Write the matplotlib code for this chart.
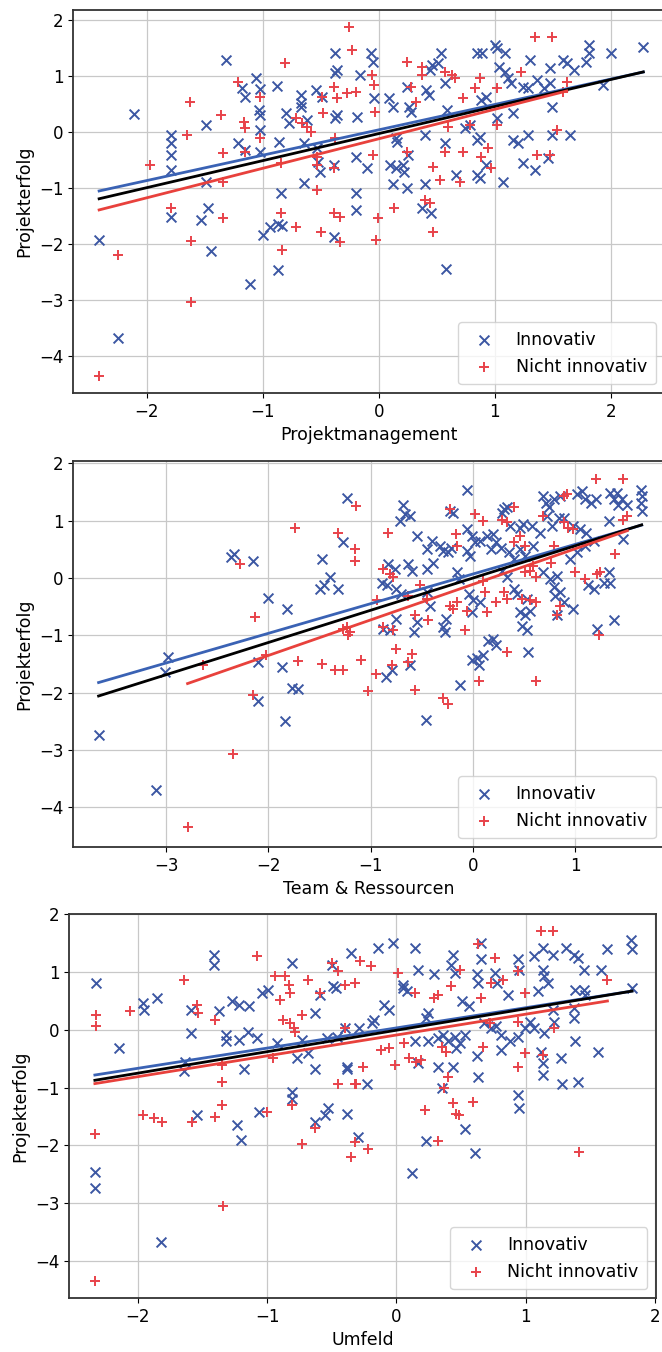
import numpy as np
import matplotlib
matplotlib.use("Agg")
import matplotlib.pyplot as plt
from matplotlib.ticker import MultipleLocator

# ---- Projektmanagement ----
pm_inno = [
    (-2.11, 0.33), (-1.32, 1.29), (-1.79, -0.05), (-1.79, -0.2), (-1.79, -0.41), (-1.79, -0.68),
    (-1.49, 0.13), (-1.49, -0.9), (-1.47, -1.36), (-1.53, -1.57), (-1.79, -1.51), (-1.06, 0.96),
    (-1.18, 0.79), (-1.15, 0.63), (-1.03, 0.39), (-1.02, 0.3), (-1.02, 0.77), (-1.02, 0.04),
    (-1.21, -0.2), (-1.15, -0.32), (-1.02, -0.35), (-0.88, 0.82), (-0.86, -0.17), (-0.84, -1.09),
    (-0.8, 0.34), (-0.77, 0.16), (-0.67, 0.66), (-0.67, 0.52), (-0.67, 0.45), (-0.62, 0.21),
    (-0.64, -0.2), (-0.64, -0.91), (-0.54, 0.75), (-0.49, 0.63), (-0.53, -0.29), (-0.52, -0.53),
    (-0.51, -0.71), (-0.38, 1.41), (-0.36, 1.1), (-0.38, 1.05), (-0.36, 0.3), (-0.38, 0.25),
    (-0.39, -0.59), (-0.19, 0.27), (-0.2, -0.44), (-0.2, -1.09), (-0.2, -1.39), (-0.16, 1.02),
    (-0.07, 1.41), (-0.05, 1.25), (-0.1, -0.65), (-0.04, 0.6), (0.09, 0.6), (0.12, 0.45),
    (0.15, -0.11), (0.16, -0.17), (0.1, -0.59), (0.15, -0.65), (0.21, -0.59), (0.22, -0.71),
    (0.24, -1.0), (0.12, -0.92), (0.25, -0.41), (0.24, 0.8), (0.26, 0.45), (0.28, 0.36),
    (0.4, -0.92), (0.4, -0.05), (0.41, 0.75), (0.43, 0.66), (0.44, 1.1), (0.46, 1.19),
    (0.51, 1.23), (0.54, 1.41), (0.57, 0.87), (0.57, -0.2), (0.59, 0.39), (0.67, -0.77),
    (0.37, -1.36), (0.45, -1.45), (0.74, 0.07), (0.79, 0.13), (0.85, -0.14), (0.87, -0.09),
    (0.85, 1.41), (0.89, 1.41), (0.88, 0.57), (0.92, 0.63), (0.85, -0.77), (0.87, -0.82),
    (0.92, -0.59), (1.0, 1.55), (1.02, 1.5), (1.09, 1.41), (1.04, 1.16), (1.09, 1.07),
    (1.11, 0.96), (1.14, 0.87), (1.02, 0.25), (1.07, -0.89), (1.16, 0.34), (1.16, -0.14),
    (1.2, -0.2), (1.24, 0.8), (1.29, 0.78), (1.24, -0.55), (1.3, 1.29), (1.29, -0.05),
    (1.35, -0.68), (1.36, 0.93), (1.42, 0.78), (1.48, 0.87), (1.48, 1.14), (1.49, -0.05),
    (1.49, 0.45), (1.46, -0.47), (1.59, 1.29), (1.62, 1.23), (1.68, 1.11), (1.65, -0.05),
    (1.81, 1.55), (1.81, 1.41), (1.79, 1.25), (1.93, 0.84), (2.0, 1.41), (2.28, 1.52),
    (-2.41, -1.92), (-2.25, -3.68), (-1.45, -2.12), (-1.11, -2.71), (-0.87, -2.46), (-1.0, -1.84),
    (-0.94, -1.7), (-0.87, -1.64), (-0.83, -1.67), (-0.39, -1.88), (0.58, -2.45),
]
pm_nicht = [
    (-1.97, -0.59), (-1.65, -0.05), (-1.63, 0.54), (-1.36, 0.3), (-1.34, -0.38), (-1.34, -0.9),
    (-1.34, -1.54), (-1.79, -1.36), (-1.21, 0.9), (-1.16, 0.18), (-1.15, 0.07), (-1.15, -0.35),
    (-1.02, 0.63), (-1.02, -0.1), (-0.81, 1.23), (-0.84, -0.55), (-0.84, -1.45), (-0.71, 0.25),
    (-0.66, 0.16), (-0.62, 0.09), (-0.58, 0.0), (-0.53, -0.44), (-0.53, -0.59), (-0.53, -1.04),
    (-0.49, 0.63), (-0.48, 0.34), (-0.39, 0.8), (-0.39, -0.65), (-0.38, -0.1), (-0.36, 0.6),
    (-0.27, 0.69), (-0.2, 0.71), (-0.26, 1.88), (-0.23, 1.46), (-0.39, -1.45), (-0.33, -1.51),
    (-0.71, -1.7), (-0.06, 1.02), (-0.04, 0.84), (-0.03, 0.36), (-0.05, -0.41), (-0.01, -1.54),
    (0.13, -1.36), (0.24, 1.25), (0.28, 0.8), (0.24, -0.35), (0.37, 1.16), (0.37, 1.02),
    (0.32, 0.54), (0.47, -0.62), (0.53, -0.86), (0.4, -1.21), (0.44, -1.27), (0.57, 1.07),
    (0.63, 1.02), (0.66, 0.96), (0.6, 0.09), (0.57, -0.35), (0.7, -0.89), (0.73, 0.6),
    (0.73, -0.35), (0.79, 0.13), (0.83, 0.78), (0.87, 0.96), (0.88, -0.44), (0.94, -0.29),
    (0.97, -0.65), (1.02, 0.78), (1.02, 0.13), (1.23, 1.07), (1.35, 1.7), (1.49, 1.7),
    (1.36, -0.41), (1.48, -0.41), (1.54, 0.04), (1.59, 0.71), (1.62, 0.9),
    (-2.41, -4.35), (-2.25, -2.19), (-1.62, -1.94), (-1.62, -3.04), (-0.83, -2.1), (-0.5, -1.78),
    (-0.33, -1.97), (-0.02, -1.92), (0.47, -1.79),
]
# regression lines: slope, intercept (innovativ, alle, nicht innovativ)
pm_fits = [(0.453, 0.04), (0.483, -0.027), (0.527, -0.12)]

# ---- Team & Ressourcen ----
tr_inno = [
    (-1.23, 1.40), (-2.37, 0.36), (-2.34, 0.42), (-2.15, 0.30), (-2.0, -0.34), (-1.82, -0.54),
    (-1.48, 0.33), (-1.27, 0.62), (-1.5, -0.19), (-1.46, -0.13), (-1.4, 0.01), (-1.32, -0.19),
    (-2.98, -1.38), (-3.01, -1.64), (-2.1, -1.47), (-1.87, -1.55),
    (-3.66, -2.73), (-3.1, -3.69), (-2.1, -2.14), (-1.84, -2.49), (-1.77, -1.91), (-1.71, -1.94),
    (-0.85, -1.72), (-0.79, -1.61), (-0.62, -1.52), (-0.46, -2.47), (-0.13, -1.87), (0.06, -1.52),
    (-0.68, 1.28), (-0.66, 1.11), (-0.71, 0.99), (-0.62, 1.08), (-0.06, 1.54), (-0.55, 0.73),
    (-0.83, 0.24), (-0.76, 0.16), (-0.63, 0.24), (-0.6, 0.13), (-0.89, -0.08), (-0.84, -0.13),
    (-0.75, -0.19), (-0.7, -0.28), (-0.45, 0.5), (-0.4, 0.65), (-0.32, 0.56), (-0.29, 0.47),
    (-0.24, 0.45), (-0.21, 0.53), (-0.45, 0.16), (-0.39, 0.27), (-0.45, -0.25), (-0.42, -0.48),
    (-0.22, 1.17), (-0.19, 1.14), (-0.06, 0.85), (-0.01, 0.73), (0.02, 0.62), (0.07, 0.65),
    (-0.06, 0.47), (-0.03, 0.39), (-0.16, 0.1), (-0.14, -0.02), (-0.04, -0.28), (0.0, -0.39),
    (-0.01, -0.6), (0.07, -0.42), (-0.26, -0.71), (-0.29, -0.86), (-0.27, -0.94), (-0.58, -0.94),
    (-0.55, -0.77), (-0.88, -0.88), (-0.81, -0.91), (-0.75, -0.71), (0.14, 0.73), (0.2, 0.76),
    (0.23, 0.62), (0.18, 0.5), (0.27, 0.53), (0.3, 1.2), (0.33, 1.23), (0.28, 1.14),
    (0.36, 0.91), (0.46, 0.88), (0.49, 0.94), (0.35, 0.45), (0.4, 0.33), (0.46, 0.5),
    (0.51, 0.39), (0.28, 0.13), (0.33, 0.01), (0.4, -0.19), (0.43, -0.28), (0.15, -1.09),
    (0.2, -1.06), (0.23, -1.17), (0.1, -1.35), (0.04, -1.4), (-0.01, -1.43), (0.53, -0.36),
    (0.46, -0.6), (0.51, -0.65), (0.48, -0.83), (0.53, -0.91), (0.56, -0.57), (0.54, -1.29),
    (0.58, 0.91), (0.66, 0.79), (0.59, 0.56), (0.69, 1.43), (0.71, 1.31), (0.74, 1.23),
    (0.79, 1.37), (0.85, 1.43), (0.72, 1.08), (0.77, 0.91), (0.84, 1.05), (0.89, 1.05),
    (0.69, 0.1), (0.75, -0.02), (0.82, 0.04), (0.79, -0.16), (0.8, -0.31), (0.85, -0.25),
    (0.89, -0.42), (0.98, -0.54), (0.82, -0.65), (0.95, 0.33), (1.02, 0.45), (1.02, 1.46),
    (1.07, 1.51), (1.1, 1.37), (1.15, 1.31), (1.2, 1.37), (0.98, 0.91), (1.05, 0.85),
    (1.11, 0.79), (1.18, 0.65), (1.1, 0.56), (1.13, -0.13), (1.18, -0.19), (1.28, -0.08),
    (1.33, 0.1), (1.34, -0.08), (1.34, 1.49), (1.38, 1.37), (1.41, 1.49), (1.42, 1.28),
    (1.46, 1.37), (1.51, 1.28), (1.33, 0.99), (1.47, 0.68), (1.64, 1.54), (1.65, 1.43),
    (1.64, 1.31), (1.65, 1.17), (1.21, -0.88), (1.38, -0.74),
]
tr_nicht = [
    (-2.28, 0.24), (-2.13, -0.68), (-1.74, 0.88), (-1.32, 0.79), (-1.15, 0.5), (-1.15, 0.3),
    (-1.14, 1.26), (-1.27, -0.89), (-1.22, -1.0), (-2.02, -1.35), (-2.64, -1.52), (-1.71, -1.44),
    (-1.48, -1.5), (-1.35, -1.61), (-1.27, -1.61),
    (-2.35, -3.06), (-2.79, -4.34), (-2.15, -2.04), (-1.03, -1.97), (-0.95, -1.68), (-0.57, -1.95),
    (-0.29, -2.1), (-0.24, -2.2), (0.06, -1.8), (0.62, -1.8),
    (-0.83, 0.79), (-0.88, 0.16), (-0.81, 0.07), (-0.78, 0.01), (-0.22, 1.2), (0.02, 1.11),
    (0.1, 0.99), (0.28, 1.02), (0.33, 0.97), (0.4, 1.23), (-0.17, 0.76), (-0.16, 0.56),
    (-0.63, -0.31), (-0.52, -0.13), (-0.45, -0.36), (-0.94, -0.39), (-1.23, -0.86), (-1.2, -0.94),
    (-0.88, -0.86), (-0.78, -0.91), (-0.75, -1.23), (-0.6, -1.32), (-0.63, -1.46), (-1.09, -1.43),
    (-0.79, -1.52), (-0.57, -0.65), (-0.44, -0.74), (-0.22, -0.48), (-0.19, -0.54), (-0.16, -0.42),
    (-0.06, -0.57), (-0.08, -0.91), (0.1, -0.05), (0.12, -0.25), (0.14, -0.6), (0.23, -0.42),
    (0.3, -0.25), (0.33, -0.36), (0.33, -1.29), (0.4, 0.62), (0.46, 0.73), (0.51, 0.56),
    (0.51, 0.1), (0.56, 0.13), (0.59, 0.21), (0.62, 0.01), (0.48, -0.36), (0.56, -0.39),
    (0.62, -0.42), (0.69, 1.08), (0.79, 0.56), (0.89, 1.43), (0.92, 1.46), (0.85, -0.48),
    (0.82, -0.65), (0.89, 0.97), (0.93, 0.88), (0.98, 0.85), (1.0, 0.1), (1.1, -0.02),
    (1.21, 0.07), (1.2, 1.72), (1.47, 1.72), (1.47, 1.02), (1.51, 1.08), (1.39, 0.42),
    (1.24, 0.1), (1.23, -1.0), (0.76, 0.27),
]
tr_fits = [(0.517, 0.07), (0.562, 0.0), (0.62, -0.11)]

# ---- Umfeld ----
um_inno = [
    (-2.32, 0.81), (-2.14, -0.32), (-1.96, 0.46), (-1.95, 0.35), (-1.85, 0.55), (-1.59, 0.35),
    (-1.59, -0.06), (-1.63, -0.55), (-1.64, -0.72), (-1.41, 1.3), (-1.41, 1.13), (-1.37, 0.32),
    (-1.32, -0.09), (-1.32, -0.2), (-1.27, 0.49), (-1.22, 0.43), (-1.14, 0.41), (-1.22, -0.17),
    (-1.15, -0.03), (-1.08, -0.14), (-1.18, -0.67), (-1.04, 0.64), (-0.99, 0.69), (-0.92, -0.23),
    (-0.81, 1.16), (-0.81, -1.07), (-0.81, -1.19), (-0.77, -0.49), (-0.73, -0.17), (-0.68, -0.41),
    (-0.63, 0.29), (-0.63, -0.67), (-0.59, 0.61), (-0.5, 1.13), (-0.49, 0.75), (-0.47, 0.72),
    (-0.54, -0.14), (-0.46, -0.12), (-0.38, -0.67), (-0.35, 1.33), (-0.4, 0.03), (-1.06, -1.42),
    (-1.23, -1.65), (-1.54, -1.48), (-0.63, -1.59), (-0.55, -1.48), (-0.53, -1.36), (-0.38, -1.45),
    (-0.14, 1.42), (-0.03, 1.5), (0.14, 1.42), (0.05, 0.78), (0.08, 0.67), (0.05, 0.72),
    (0.17, 1.04), (0.29, 0.96), (0.44, 1.3), (0.42, 1.13), (0.45, 0.98), (-0.1, 0.43),
    (-0.06, 0.35), (-0.17, 0.17), (-0.19, 0.12), (-0.29, 0.03), (0.24, 0.29), (0.23, 0.2),
    (0.14, -0.2), (0.24, -0.2), (0.32, -0.14), (0.17, -0.58), (0.32, -0.64), (0.44, -0.64),
    (0.36, -0.09), (0.4, -0.2), (0.45, -0.12), (0.49, -0.23), (0.53, -0.09), (0.46, -0.32),
    (0.35, -1.01), (0.51, 0.49), (0.56, 0.41), (0.62, 0.96), (0.63, 0.81), (0.65, 1.5),
    (0.65, 1.22), (0.62, -0.46), (0.63, -0.81), (0.68, 0.12), (0.73, 0.03), (0.77, 0.06),
    (0.81, -0.09), (0.76, 0.98), (0.78, 0.81), (0.86, 0.61), (0.81, -0.35), (0.88, -0.2),
    (0.94, -0.12), (0.94, 1.22), (0.95, 1.04), (0.94, -1.13), (0.95, -1.36), (0.99, 0.03),
    (1.03, 0.14), (1.06, 0.03), (1.06, 1.27), (1.13, 1.42), (1.21, 1.3), (1.13, 1.04),
    (1.14, 0.93), (1.17, 0.81), (1.09, 0.67), (1.12, -0.38), (1.13, -0.58), (1.13, -0.78),
    (1.14, -0.06), (1.21, 0.35), (1.22, 0.14), (1.27, -0.49), (1.28, -0.93), (1.4, -0.9),
    (1.31, 1.42), (1.37, 1.3), (1.4, 1.24), (1.38, 0.69), (1.45, 0.69), (1.46, 0.61),
    (1.37, 0.38), (1.37, 0.2), (1.45, 1.04), (1.38, -0.2), (1.56, -0.38), (1.58, 1.04),
    (1.63, 1.39), (1.81, 1.56), (1.82, 1.39), (1.82, 0.72), (-0.38, -0.64), (-0.23, -0.93),
    (-2.33, -2.46), (-2.33, -2.74), (-1.82, -3.68), (-1.2, -1.91), (-0.3, -1.86), (0.12, -2.48),
    (0.23, -1.93), (0.53, -1.72), (0.61, -2.14),
]
um_nicht = [
    (-2.32, 0.26), (-2.32, 0.06), (-2.06, 0.32), (-1.64, 0.87), (-1.54, 0.43), (-1.53, 0.29),
    (-1.4, 0.17), (-1.35, -0.61), (-1.35, -0.9), (-1.35, -1.3), (-1.4, -1.51), (-1.08, 1.27),
    (-0.94, 0.93), (-0.86, 0.93), (-0.83, 0.78), (-0.82, 0.64), (-0.9, 0.52), (-0.68, 0.87),
    (-0.73, 0.26), (-0.88, 0.17), (-0.82, 0.12), (-0.79, 0.03), (-0.78, -0.03), (-0.95, -0.49),
    (-0.59, 0.64), (-0.5, 1.16), (-0.45, 1.01), (-0.4, 0.78), (-0.32, 0.81), (-0.4, 0.03),
    (-0.45, -0.93), (-0.32, -0.93), (-1.96, -1.48), (-1.87, -1.53), (-1.81, -1.59), (-1.58, -1.59),
    (-1.0, -1.42), (-0.81, -1.3),
    (-0.28, 1.19), (-0.2, 1.1), (0.01, 0.98), (0.14, 0.64), (0.29, 0.55), (0.32, 0.61),
    (0.42, 0.75), (0.49, 1.04), (0.63, 1.48), (0.76, 1.24), (0.65, 0.55), (0.73, 0.81),
    (0.82, 0.87), (0.94, 1.01), (0.99, 0.64), (1.12, 1.71), (1.21, 1.71), (1.63, 0.87),
    (-0.12, -0.35), (-0.06, -0.32), (0.06, -0.23), (0.1, -0.49), (0.15, -0.55), (0.19, -0.52),
    (-0.01, -0.61), (-0.26, -0.64), (-0.31, -0.93), (0.35, -0.29), (0.38, -0.38), (0.4, -0.81),
    (0.37, -1.01), (0.67, -0.29), (0.72, 0.12), (0.94, 0.14), (0.94, -0.64), (0.99, -0.41),
    (1.13, -0.43), (1.22, 0.03), (0.22, -1.39), (0.44, -1.27), (0.46, -1.45), (0.59, -1.25),
    (-2.33, -1.8), (-2.33, -4.34), (-1.34, -3.05), (-0.73, -1.97), (-0.63, -1.7), (-0.35, -2.2),
    (-0.32, -1.94), (-0.22, -2.06), (0.32, -1.93), (1.41, -2.11), (0.48, -1.48),
]
um_fits = [(0.35, 0.033), (0.372, -0.007), (0.361, -0.09)]

labels = ["Innovativ", "Nicht innovativ"]
xlabels = ["Projektmanagement", "Team & Ressourcen", "Umfeld"]

BLUE = "#3c57a3"
RED = "#e8424a"
LINE_BLUE = "#3a62b4"
LINE_RED = "#e8413c"

plt.rcParams["font.family"] = ["DejaVu Sans"]
plt.rcParams["font.size"] = 12


def draw_panel(ax, inno, nicht, fits, xlabel, xlim, ylim):
    inno = np.array(inno)
    nicht = np.array(nicht)
    ax.grid(True, color="#c8c8c8", linewidth=0.9)
    ax.set_axisbelow(True)
    ax.scatter(inno[:, 0], inno[:, 1], marker="x", s=50, color=BLUE,
               linewidths=1.4, label=labels[0], zorder=2)
    ax.scatter(nicht[:, 0], nicht[:, 1], marker="+", s=60, color=RED,
               linewidths=1.4, label=labels[1], zorder=2)
    allx = np.concatenate([inno[:, 0], nicht[:, 0]])
    groups = [(inno[:, 0], LINE_BLUE), (allx, "black"), (nicht[:, 0], LINE_RED)]
    for (xs, col), (m, b) in zip(groups, fits):
        xx = np.array([xs.min(), xs.max()])
        ax.plot(xx, m * xx + b, color=col, linewidth=2, zorder=3)
    ax.set_xlim(*xlim)
    ax.set_ylim(*ylim)
    ax.xaxis.set_major_locator(MultipleLocator(1))
    ax.yaxis.set_major_locator(MultipleLocator(1))
    ax.set_xlabel(xlabel, fontsize=12.5)
    ax.set_ylabel("Projekterfolg", fontsize=12.5)
    ax.tick_params(labelsize=12)
    for sp in ax.spines.values():
        sp.set_linewidth(1.3)
        sp.set_color("#333333")
    ax.legend(loc="lower right", fontsize=12.5, borderpad=0.5)


fig = plt.figure(figsize=(6.62, 13.52), dpi=100)
ax1 = fig.add_axes([0.1103, 0.7093, 0.893, 0.2833])
ax2 = fig.add_axes([0.1103, 0.3735, 0.893, 0.2855])
ax3 = fig.add_axes([0.1042, 0.0400, 0.8867, 0.2840])

draw_panel(ax1, pm_inno, pm_nicht, pm_fits, xlabels[0], (-2.635, 2.46), (-4.66, 2.18))
draw_panel(ax2, tr_inno, tr_nicht, tr_fits, xlabels[1], (-3.91, 1.87), (-4.69, 2.04))
draw_panel(ax3, um_inno, um_nicht, um_fits, xlabels[2], (-2.53, 2.005), (-4.64, 2.005))

fig.savefig("out.png", dpi=100)
